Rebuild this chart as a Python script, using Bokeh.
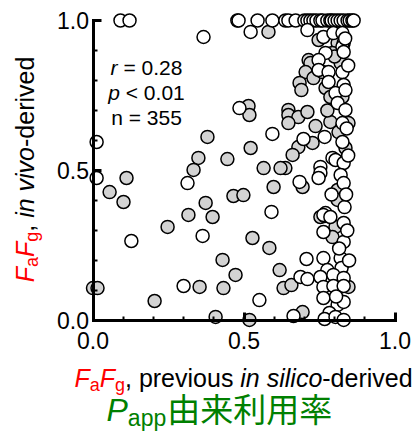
from bokeh.plotting import figure
from bokeh.models import Range1d, FixedTicker, Label, LinearAxis
from bokeh.embed import file_html
from bokeh.resources import INLINE

# ---------------- data ----------------
grey_x = [0.055, 0.111, 0.101, 0.379, 0.349, 0.333, 0.373, 0.316, 0.247, 0.0, 0.015, 0.353, 0.204,
          0.396, 0.528, 0.584, 0.429, 0.472, 0.432, 0.618, 0.631, 0.657, 0.406, 0.518, 0.694,
          0.515, 0.518, 0.647, 0.647, 0.680, 0.710, 0.647, 0.737, 0.727, 0.680, 0.661, 0.637, 0.621,
          0.694, 0.522, 0.445, 0.565, 0.598, 0.465, 0.498,
          0.581, 0.747, 0.810, 0.793, 0.714, 0.720, 0.704, 0.730, 0.760, 0.820, 0.684, 0.690, 0.770,
          0.786, 0.826, 0.786, 0.846, 0.813, 0.836, 0.810, 0.810, 0.753,
          0.767, 0.803, 0.793, 0.830, 0.846, 0.800, 0.776]
grey_y = [0.428, 0.475, 0.395, 0.612, 0.542, 0.502, 0.392, 0.352, 0.312, 0.108, 0.108, 0.112, 0.065,
          0.345, 0.275, 0.242, 0.202, 0.152, 0.108, 0.168, 0.108, 0.118, 0.012, 0.002, 0.028,
          0.715, 0.685, 0.702, 0.685, 0.678, 0.695, 0.658, 0.648, 0.592, 0.578, 0.552, 0.508, 0.508,
          0.445, 0.575, 0.538, 0.508, 0.445, 0.415, 0.418,
          0.962, 0.935, 0.925, 0.892, 0.868, 0.858, 0.828, 0.808, 0.828, 0.858, 0.792, 0.768, 0.775,
          0.745, 0.745, 0.662, 0.658, 0.628, 0.575, 0.435, 0.402, 0.345,
          0.348, 0.312, 0.278, 0.192, 0.112, 0.880, 0.700]

white_x = [0.091, 0.121, 0.366, 0.012, 0.012, 0.313, 0.127, 0.363, 0.300, 0.591, 0.687, 0.710,
           0.707, 0.551, 0.664, 0.485, 0.594, 0.697, 0.684,
           0.478, 0.482, 0.545, 0.594, 0.637, 0.647, 0.671, 0.700, 0.710, 0.720, 0.730, 0.740, 0.753,
           0.760, 0.776, 0.786, 0.790, 0.800, 0.810, 0.820, 0.830, 0.843, 0.850, 0.859, 0.863,
           0.522, 0.710, 0.763, 0.796, 0.826, 0.830, 0.770, 0.826, 0.830, 0.747, 0.747, 0.780, 0.826,
           0.780, 0.830, 0.803, 0.810, 0.836, 0.836, 0.826, 0.767, 0.826, 0.793, 0.803, 0.830, 0.753,
           0.753, 0.747, 0.820, 0.830, 0.833, 0.770,
           0.763, 0.786, 0.830, 0.763, 0.830, 0.763, 0.820, 0.776, 0.823, 0.753, 0.796, 0.830, 0.763,
           0.796, 0.830, 0.763, 0.810, 0.830, 0.783, 0.767, 0.803, 0.830,
           0.840, 0.845, 0.838, 0.842, 0.815, 0.790, 0.845, 0.835, 0.805, 0.848]
white_y = [1.0, 1.0, 0.945, 0.595, 0.475, 0.458, 0.265, 0.282, 0.115, 0.362, 0.145, 0.138,
           0.205, 0.068, 0.015, 0.708, 0.622, 0.605, 0.462,
           1.0, 1.0, 1.0, 1.0, 1.0, 1.0, 1.0, 1.0, 1.0, 1.0, 1.0, 1.0, 1.0,
           1.0, 1.0, 1.0, 1.0, 1.0, 1.0, 1.0, 1.0, 1.0, 1.0, 1.0, 1.0,
           0.962, 0.968, 0.945, 0.958, 0.958, 0.925, 0.892, 0.912, 0.895, 0.868, 0.835, 0.828, 0.828,
           0.795, 0.785, 0.758, 0.725, 0.768, 0.702, 0.658, 0.612, 0.595, 0.542, 0.535, 0.525, 0.512,
           0.492, 0.475, 0.485, 0.458, 0.378, 0.358,
           0.352, 0.345, 0.325, 0.295, 0.262, 0.208, 0.208, 0.168, 0.175, 0.145, 0.152, 0.142, 0.112,
           0.115, 0.115, 0.075, 0.052, 0.062, 0.025, 0.005, 0.012, 0.002,
           0.640, 0.550, 0.420, 0.300, 0.240, 0.420, 0.850, 0.940, 0.080, 0.200]

major_ticks = [0.0, 0.5, 1.0]
minor_ticks = [0.1, 0.2, 0.3, 0.4, 0.6, 0.7, 0.8, 0.9]
tick_labels = ["0.0", "0.5", "1.0"]
stat_r, stat_p, stat_n = "0.28", "0.01", "355"

# ---------------- layout ----------------
# the frame fills the whole canvas (page has no margin); axes sit at data 0 inside it
CW, CH = 415, 433
X0_PX, SX = 92.5, 302.0      # px of x=0, px per unit
Y0_PX, SY = 320.0, 300.0     # px of y=0, px per unit
XR = (-X0_PX / SX, (CW - X0_PX) / SX)
YR = ((Y0_PX - CH) / SY, Y0_PX / SY)
RED, GREEN = "#ff0000", "#008000"
FONT = "Liberation Sans"
CJK = "Noto Sans CJK JP"
BASE_FIX = 0.35   # observed baseline offset of labels, in em

p = figure(frame_width=CW, frame_height=CH,
           x_range=Range1d(*XR), y_range=Range1d(*YR),
           output_backend="svg", toolbar_location=None,
           x_axis_location=None, y_axis_location=None,
           min_border=0)
p.title.visible = False
p.outline_line_color = None
p.grid.visible = False
p.background_fill_color = "white"
p.border_fill_color = "white"

xaxis = LinearAxis()
yaxis = LinearAxis()
p.add_layout(xaxis, "below")
p.add_layout(yaxis, "left")
for ax in (xaxis, yaxis):
    ax.ticker = FixedTicker(ticks=major_ticks, minor_ticks=minor_ticks)
    ax.major_label_overrides = {t: l for t, l in zip(major_ticks, tick_labels)}
    ax.bounds = (0, 1)
    ax.fixed_location = 0
    ax.axis_line_width = 3
    ax.axis_line_cap = "square"
    ax.major_tick_line_width = 3
    ax.minor_tick_line_width = 2
    ax.major_tick_in = 8
    ax.major_tick_out = 0
    ax.minor_tick_in = 4
    ax.minor_tick_out = 0
    ax.major_label_text_font = FONT
    ax.major_label_text_font_size = "23px"
    ax.major_label_text_color = "black"
yaxis.major_label_standoff = 4
xaxis.major_label_standoff = 11

p.scatter(grey_x, grey_y, marker="circle", size=13, fill_color="#d3d3d3",
          line_color="black", line_width=1.5)
p.scatter(white_x, white_y, marker="circle", size=13, fill_color="white",
          line_color="black", line_width=1.5)

# page pixel -> data helpers
def dx(px):
    return XR[0] + px / SX

def dy(py):
    return YR[1] - py / SY

W = {"F": 611, "a": 556, "g": 556, ",": 278, " ": 278, "p": 556, "r": 333, "e": 556, "v": 500,
     "i": 222, "o": 556, "u": 556, "s": 500, "n": 556, "l": 222, "c": 500, "-": 333, "d": 556,
     "=": 584, "<": 584, "0": 556, "1": 556, "2": 556, "3": 556, "5": 556, "8": 556, ".": 278,
     "P": 667}

def width(t, size):
    return sum(W.get(ch, 556) for ch in t) * size / 1000.0

def add(px, py, text, size, color="black", style="normal", font=FONT, vertical=False, align="left"):
    """px, py: page position of the baseline start"""
    if vertical:
        px -= BASE_FIX * size
    else:
        py -= BASE_FIX * size
    p.add_layout(Label(x=dx(px), y=dy(py), text=text, text_font=font, text_font_size=f"{size}px",
                       text_font_style=style, text_color=color, text_align=align,
                       text_baseline="alphabetic", angle=1.5707963 if vertical else 0.0))

def run(segs, start, base, vertical=False):
    """place styled segments one after another; leading spaces become offsets"""
    cur = start
    sgn = -1 if vertical else 1
    for t, c, st, s, d in segs:
        lead = len(t) - len(t.lstrip(" "))
        pos = cur + sgn * width(" " * lead, s)
        txt = t.strip(" ")
        if txt:
            if vertical:
                add(base + d, pos, txt, s, c, st, vertical=True)
            else:
                add(pos, base + d, txt, s, c, st)
        cur += sgn * width(t, s)

# --- x axis title, line 1 ---
segs1 = [("F", RED, "italic", 25, 0), ("a", RED, "normal", 18, 5), ("F", RED, "italic", 25, 0),
         ("g", RED, "normal", 18, 5), (",", "black", "normal", 25, 0),
         (" previous ", "black", "normal", 25, 0),
         ("in silico", "black", "italic", 25, 0), ("-derived", "black", "normal", 25, 0)]
tot = sum(width(t, s) for t, _, _, s, _ in segs1)
run(segs1, 243 - tot / 2, 386)

# --- x axis title, line 2 (green) ---
segs2 = [("P", GREEN, "italic", 32, 0), ("app", GREEN, "normal", 23, 5)]
run(segs2, 106, 421)
add(106 + width("P", 32) + width("app", 23) + 1, 419, "由来利用率", 33, GREEN, "normal", font=CJK)

# --- y axis title (rotated) ---
segs_y = [("F", RED, "italic", 25, 0), ("a", RED, "normal", 18, 5), ("F", RED, "italic", 25, 0),
          ("g", RED, "normal", 18, 5), (",", "black", "normal", 25, 0),
          (" in vivo", "black", "italic", 25, 0), ("-derived", "black", "normal", 25, 0)]
tot = sum(width(t, s) for t, _, _, s, _ in segs_y)
run(segs_y, 169 + tot / 2, 33, vertical=True)

# --- statistics annotation ---
cx = 146
for sym, rest, base in (("r", " = " + stat_r, 74), ("p", " < " + stat_p, 99)):
    w = width(sym, 21) + width(rest, 21)
    run([(sym, "black", "italic", 21, 0), (rest, "black", "normal", 21, 0)], cx - w / 2, base)
add(cx, 124, "n = " + stat_n, 21, align="center")

open("out.html", "w").write(file_html(p, INLINE))
